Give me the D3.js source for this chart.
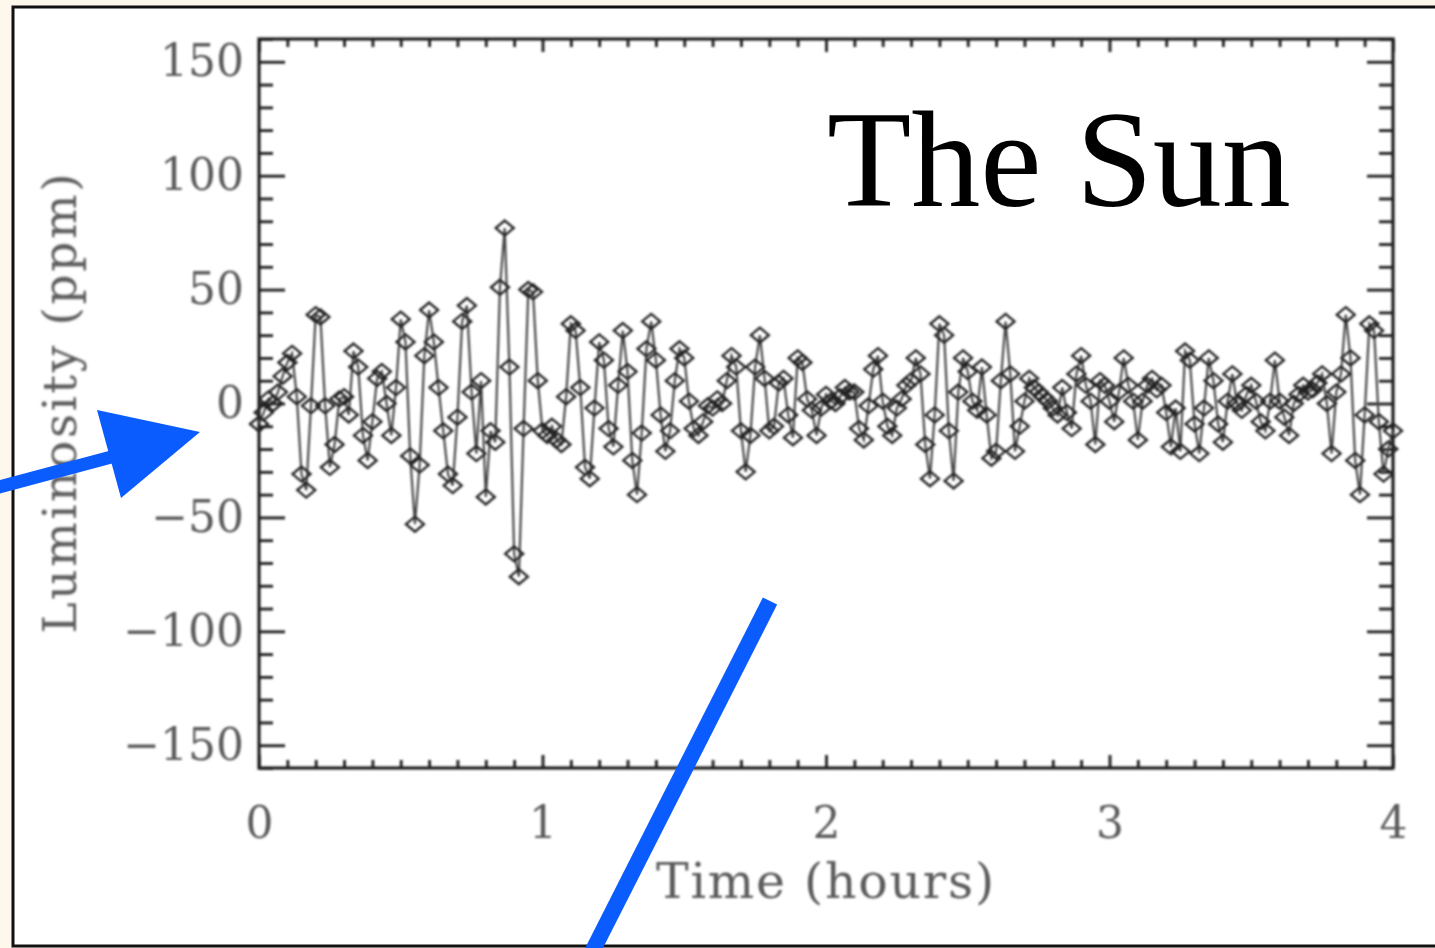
<!DOCTYPE html>
<html>
<head>
<meta charset="utf-8">
<script src="https://cdn.jsdelivr.net/npm/d3@7"></script>
<style>
  html, body { margin: 0; padding: 0; background: #fdf7ec; }
  svg { display: block; }
</style>
</head>
<body>
<svg id="chart" width="1435" height="948"></svg>
<script>
// Solar irradiance fluctuations, one sample per minute over four hours
const minutes = d3.range(0, 241);
const luminosity = [
  -9, -4, 2, 0, 5, 12, 18, 22, 3, -31,
  -38, -1, 39, 38, -1, -28, -18, 2, 3, -5,
  23, 16, -14, -25, -8, 11, 14, 0, -14, 7,
  37, 27, -23, -53, -27, 21, 41, 27, 7, -12,
  -31, -36, -6, 36, 43, 5, -22, 10, -41, -12,
  -17, 51, 77, 16, -66, -76, -11, 50, 49, 10,
  -12, -14, -10, -16, -18, 3, 35, 32, 7, -28,
  -33, -2, 27, 19, -11, -19, 8, 32, 14, -25,
  -40, -13, 24, 36, 19, -5, -21, -12, 10, 24,
  20, 1, -11, -14, -8, -1, -2, 2, 0, 10,
  21, 16, -12, -30, -14, 16, 30, 11, -12, -10,
  9, 11, -5, -15, 20, 18, 2, -3, -14, -2,
  4, 1, 0, 3, 7, 5, 5, -11, -16, -1,
  15, 21, 1, -10, -14, -2, 2, 8, 10, 20,
  13, -18, -33, -5, 35, 30, -12, -34, 5, 20,
  14, 1, -3, 16, -5, -24, -21, 10, 36, 13,
  -21, -10, 1, 11, 7, 5, 3, 1, -2, -5,
  7, -4, -11, 13, 21, 8, 1, -18, 10, 8,
  1, -8, 5, 20, 8, 1, -16, 1, 8, 11,
  6, 8, -4, -19, -2, -21, 23, 19, -9, -22,
  -2, 20, 10, -9, -17, 1, 13, 0, -3, 4,
  8, 1, -8, -12, 1, 19, 1, -6, -14, 0,
  4, 8, 5, 6, 9, 13, 0, -22, 5, 13,
  39, 20, -25, -40, -5, 35, 32, -8, -31, -20,
  -12
];
const series = minutes.map((m, i) => ({ hours: m / 60, ppm: luminosity[i] }));

const yMajorTicks = [-150, -100, -50, 0, 50, 100, 150];
const yMinorTicks = d3.range(-160, 161, 10).filter(v => v % 50 !== 0);
const xMajorTicks = [0, 1, 2, 3, 4];
const xMinorTicks = d3.range(0, 41).map(i => i / 10).filter(v => Math.abs(v - Math.round(v)) > 1e-6);

const svg = d3.select("#chart");

// panel with black frame
svg.append("rect")
  .attr("x", 13).attr("y", 7)
  .attr("width", 1440).attr("height", 939)
  .attr("fill", "#ffffff")
  .attr("stroke", "#111").attr("stroke-width", 3);

const defs = svg.append("defs");
defs.append("filter").attr("id", "soft")
  .attr("x", "-5%").attr("y", "-5%").attr("width", "110%").attr("height", "110%")
  .append("feGaussianBlur").attr("stdDeviation", 0.8);

const plotLeft = 259, plotRight = 1393, plotTop = 39, plotBottom = 768;
const x = d3.scaleLinear().domain([0, 4]).range([plotLeft, plotRight]);
const y = d3.scaleLinear().domain([-160, 160]).range([plotBottom, plotTop]);

const plot = svg.append("g").attr("filter", "url(#soft)");

const tickFont = "'DejaVu Serif', serif";
const ink = "#1e1e1e";
const labelInk = "#5c5c5c";

function styleAxis(g) {
  g.select(".domain").remove();
  g.selectAll(".tick line").attr("stroke", ink).attr("stroke-width", 2.8);
  g.selectAll(".tick text")
    .attr("font-family", tickFont)
    .attr("font-size", 44)
    .attr("fill", labelInk);
}

// left axis: labelled majors and minors pointing inward
plot.append("g").attr("transform", `translate(${plotLeft},0)`)
  .call(d3.axisLeft(y).tickValues(yMajorTicks).tickSizeInner(-26).tickSizeOuter(0)
    .tickPadding(15).tickFormat(d => d < 0 ? "\u2212" + Math.abs(d) : String(d)))
  .call(styleAxis);
plot.append("g").attr("transform", `translate(${plotLeft},0)`)
  .call(d3.axisLeft(y).tickValues(yMinorTicks).tickSizeInner(-14).tickSizeOuter(0).tickFormat(""))
  .call(styleAxis);

// right axis mirrors the left one without labels
plot.append("g").attr("transform", `translate(${plotRight},0)`)
  .call(d3.axisRight(y).tickValues(yMajorTicks).tickSizeInner(-26).tickSizeOuter(0).tickFormat(""))
  .call(styleAxis);
plot.append("g").attr("transform", `translate(${plotRight},0)`)
  .call(d3.axisRight(y).tickValues(yMinorTicks).tickSizeInner(-14).tickSizeOuter(0).tickFormat(""))
  .call(styleAxis);

// bottom axis
plot.append("g").attr("transform", `translate(0,${plotBottom})`)
  .call(d3.axisBottom(x).tickValues(xMajorTicks).tickSizeInner(-13).tickSizeOuter(0)
    .tickPadding(39).tickFormat(d3.format("d")))
  .call(styleAxis);
plot.append("g").attr("transform", `translate(0,${plotBottom})`)
  .call(d3.axisBottom(x).tickValues(xMinorTicks).tickSizeInner(-8).tickSizeOuter(0).tickFormat(""))
  .call(styleAxis);

// top axis
plot.append("g").attr("transform", `translate(0,${plotTop})`)
  .call(d3.axisTop(x).tickValues(xMajorTicks).tickSizeInner(-13).tickSizeOuter(0).tickFormat(""))
  .call(styleAxis);
plot.append("g").attr("transform", `translate(0,${plotTop})`)
  .call(d3.axisTop(x).tickValues(xMinorTicks).tickSizeInner(-8).tickSizeOuter(0).tickFormat(""))
  .call(styleAxis);

// plot frame
plot.append("rect")
  .attr("x", plotLeft).attr("y", plotTop)
  .attr("width", plotRight - plotLeft).attr("height", plotBottom - plotTop)
  .attr("fill", "none").attr("stroke", ink).attr("stroke-width", 3.2);

// axis titles
plot.append("text")
  .attr("transform", `translate(76,${y(0)}) rotate(-90)`)
  .attr("text-anchor", "middle")
  .attr("font-family", tickFont).attr("font-size", 47)
  .attr("textLength", 460).attr("lengthAdjust", "spacing")
  .attr("fill", labelInk)
  .text("Luminosity (ppm)");

plot.append("text")
  .attr("x", 825).attr("y", 898)
  .attr("text-anchor", "middle")
  .attr("font-family", tickFont).attr("font-size", 49)
  .attr("textLength", 338).attr("lengthAdjust", "spacing")
  .attr("fill", labelInk)
  .text("Time (hours)");

// light curve
const line = d3.line().x(d => x(d.hours)).y(d => y(d.ppm));
plot.append("path")
  .datum(series)
  .attr("d", line)
  .attr("fill", "none")
  .attr("stroke", "#474747")
  .attr("stroke-width", 2.2);

const diamond = "M0,-7.5L9,0L0,7.5L-9,0Z";
plot.append("g").selectAll("path")
  .data(series)
  .join("path")
  .attr("transform", d => `translate(${x(d.hours)},${y(d.ppm)})`)
  .attr("d", diamond)
  .attr("fill", "none")
  .attr("stroke", "#222")
  .attr("stroke-width", 2.3);

// title
svg.append("text")
  .attr("x", 827).attr("y", 206)
  .attr("font-family", "'Liberation Serif', 'Times New Roman', serif")
  .attr("font-size", 138)
  .attr("fill", "#000")
  .text("The Sun");

// blue pointers
const blue = "#0a5cff";
svg.append("line")
  .attr("x1", -5).attr("y1", 488).attr("x2", 130).attr("y2", 452)
  .attr("stroke", blue).attr("stroke-width", 13);
svg.append("path")
  .attr("d", "M200,432L97,410L121,498Z")
  .attr("fill", blue);
svg.append("line")
  .attr("x1", 770).attr("y1", 601).attr("x2", 588).attr("y2", 960)
  .attr("stroke", blue).attr("stroke-width", 16);
</script>
</body>
</html>
